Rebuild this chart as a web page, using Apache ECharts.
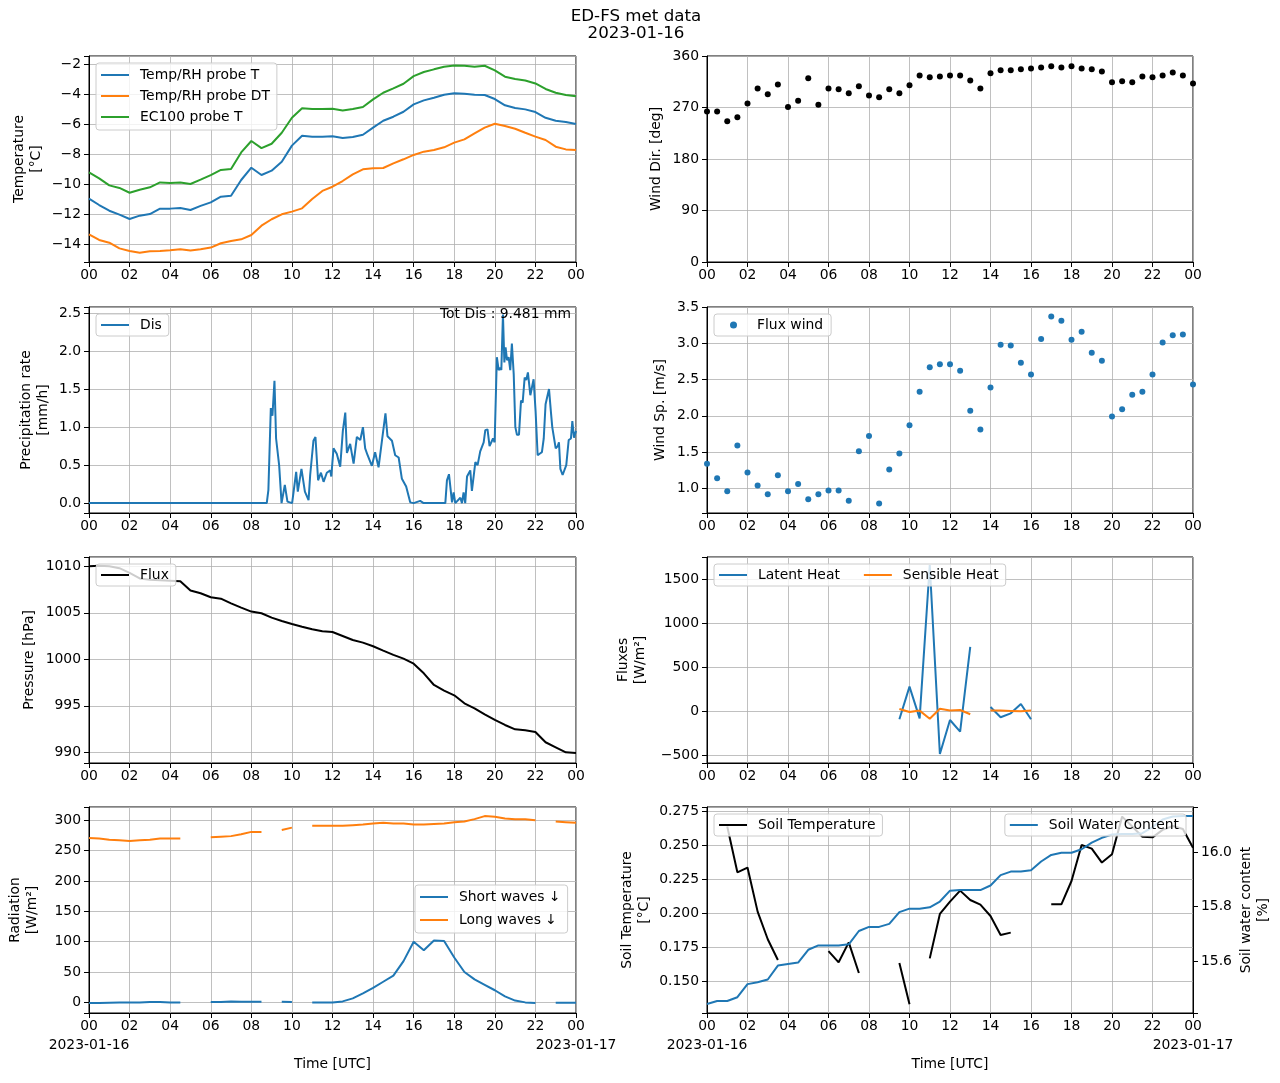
<!DOCTYPE html>
<html>
<head>
<meta charset="utf-8">
<script src="https://cdn.jsdelivr.net/npm/echarts@6/dist/echarts.min.js"></script>
<style>
html, body { margin: 0; padding: 0; background: #fff; }
#main { width: 1280px; height: 1083px; }
</style>
</head>
<body>
<div id="main"></div>
<script>
// half-hourly time stamps (hours UTC since 2023-01-16 00:00)
var times = [0, 0.5, 1, 1.5, 2, 2.5, 3, 3.5, 4, 4.5, 5, 5.5, 6, 6.5, 7, 7.5, 8, 8.5, 9, 9.5,
  10, 10.5, 11, 11.5, 12, 12.5, 13, 13.5, 14, 14.5, 15, 15.5, 16, 16.5, 17, 17.5, 18, 18.5, 19, 19.5,
  20, 20.5, 21, 21.5, 22, 22.5, 23, 23.5, 24];
var dayLabels = ['2023-01-16', '2023-01-17'];

var tempProbeT = [-10.95, -11.38, -11.76, -12.02, -12.31, -12.09, -11.98, -11.62, -11.62, -11.58, -11.71, -11.44, -11.2, -10.82, -10.76, -9.71, -8.89, -9.38, -9.09, -8.49,
  -7.42, -6.76, -6.82, -6.82, -6.8, -6.91, -6.84, -6.69, -6.22, -5.76, -5.49, -5.16, -4.67, -4.4, -4.22, -4.02, -3.93, -3.96, -4.02, -4.04,
  -4.31, -4.73, -4.91, -5.0, -5.18, -5.56, -5.76, -5.84, -5.98];
var tempProbeDT = [-13.33, -13.71, -13.89, -14.27, -14.44, -14.56, -14.47, -14.44, -14.4, -14.33, -14.42, -14.33, -14.22, -13.93, -13.78, -13.67, -13.38, -12.76, -12.33, -12.0,
  -11.82, -11.6, -10.98, -10.44, -10.16, -9.78, -9.33, -9.0, -8.93, -8.91, -8.6, -8.33, -8.04, -7.82, -7.71, -7.53, -7.22, -7.0, -6.6, -6.22,
  -5.96, -6.11, -6.29, -6.56, -6.82, -7.04, -7.49, -7.67, -7.71];
var tempEC100 = [-9.2, -9.6, -10.07, -10.24, -10.56, -10.36, -10.2, -9.87, -9.91, -9.87, -9.98, -9.69, -9.38, -9.04, -8.98, -7.87, -7.11, -7.58, -7.29, -6.56,
  -5.56, -4.93, -4.98, -4.98, -4.96, -5.07, -4.98, -4.84, -4.33, -3.89, -3.6, -3.29, -2.78, -2.51, -2.33, -2.16, -2.07, -2.09, -2.16, -2.09,
  -2.4, -2.82, -2.98, -3.07, -3.27, -3.64, -3.89, -4.04, -4.13];

var windDir = [263, 263, 246, 253, 277, 303, 293, 310, 271, 282, 321, 275, 303, 302, 295, 307, 291, 288, 302, 295,
  309, 326, 323, 324, 326, 326, 317, 303, 330, 335, 335, 337, 338, 340, 342, 340, 342, 338, 337, 333,
  314, 316, 314, 324, 323, 326, 331, 326, 312];
var windSpeed = [1.34, 1.14, 0.96, 1.59, 1.22, 1.04, 0.92, 1.18, 0.96, 1.06, 0.85, 0.92, 0.97, 0.97, 0.83, 1.51, 1.72, 0.79, 1.26, 1.48,
  1.87, 2.33, 2.67, 2.71, 2.71, 2.62, 2.07, 1.81, 2.39, 2.98, 2.97, 2.73, 2.57, 3.06, 3.37, 3.31, 3.05, 3.16, 2.87, 2.76,
  1.99, 2.09, 2.29, 2.33, 2.57, 3.01, 3.11, 3.12, 2.43];

// disdrometer precipitation rate (irregular times, hours)
var precTimes = [0, 8.76, 8.84, 8.96, 9.04, 9.14, 9.22, 9.37, 9.49, 9.65, 9.78, 10.01, 10.21, 10.29, 10.47, 10.64, 10.82, 10.9,
  11.06, 11.16, 11.29, 11.43, 11.56, 11.72, 11.89, 11.94, 12.05, 12.21, 12.38, 12.51, 12.63, 12.71, 12.87,
  13.04, 13.2, 13.37, 13.5, 13.61, 13.73, 13.94, 14.1, 14.27, 14.45, 14.61, 14.71, 14.93, 15.09, 15.26, 15.42,
  15.63, 15.83, 16.0, 16.32, 16.49, 17.56, 17.64, 17.74, 17.89, 17.97, 18.05, 18.3, 18.38, 18.46, 18.54, 18.63,
  18.79, 18.87, 19.04, 19.15, 19.28, 19.45, 19.53, 19.64, 19.74, 19.91, 19.99, 20.1, 20.19, 20.27, 20.32, 20.4,
  20.47, 20.53, 20.6, 20.68, 20.76, 20.84, 20.93, 21.01, 21.09, 21.19, 21.29, 21.37, 21.47, 21.55, 21.63, 21.75,
  21.83, 21.91, 22.01, 22.11, 22.21, 22.32, 22.41, 22.5, 22.6, 22.67, 22.77, 22.83, 22.9, 23.0, 23.1, 23.16,
  23.23, 23.34, 23.43, 23.52, 23.64, 23.75, 23.82, 23.9, 24.0];
var precRate = [0, 0, 0.17, 1.25, 1.15, 1.61, 0.85, 0.5, 0.0, 0.24, 0.02, 0, 0.41, 0.15, 0.45, 0.15, 0.04, 0.37,
  0.82, 0.87, 0.3, 0.4, 0.28, 0.4, 0.43, 0.35, 0.72, 0.65, 0.48, 0.95, 1.19, 0.66, 0.78,
  0.52, 0.87, 0.83, 1.0, 0.72, 0.63, 0.49, 0.67, 0.47, 0.85, 1.18, 0.88, 0.82, 0.63, 0.6, 0.32,
  0.22, 0.01, 0, 0.03, 0, 0, 0.3, 0.38, 0.01, 0.14, 0, 0.07, 0, 0.14, 0, 0.35,
  0.43, 0.16, 0.54, 0.5, 0.68, 0.8, 0.96, 0.97, 0.75, 0.85, 0.8, 1.92, 1.75, 1.78, 1.75, 2.48,
  1.85, 2.05, 1.88, 1.92, 1.75, 2.1, 1.7, 1.0, 0.9, 0.9, 1.35, 1.32, 1.65, 1.62, 1.72, 1.42,
  1.43, 1.63, 1.2, 0.63, 0.65, 0.67, 0.85, 1.3, 1.42, 1.5, 1.18, 1.0, 1.0, 0.72, 0.75, 0.8,
  0.45, 0.37, 0.36, 0.5, 0.83, 0.85, 1.08, 0.86, 0.95];
var totDis = '9.481';

var pressure = [1010.0, 1010.07, 1010.0, 1009.8, 1009.3, 1008.7, 1008.55, 1008.5, 1008.45, 1008.4, 1007.4, 1007.1, 1006.67, 1006.52, 1006.02, 1005.56, 1005.13, 1004.95, 1004.48, 1004.12,
  1003.8, 1003.51, 1003.23, 1003.01, 1002.94, 1002.51, 1002.08, 1001.79, 1001.4, 1000.93, 1000.47, 1000.07, 999.53, 998.49, 997.24, 996.63, 996.13, 995.27, 994.73, 994.09,
  993.48, 992.94, 992.47, 992.37, 992.19, 991.08, 990.54, 990.0, 989.93];

var latentHeat = [null, null, null, null, null, null, null, null, null, null, null, null, null, null, null, null, null, null, null, -91,
  281, -80, 1667, -486, -99, -232, 733, null, 49, -68, -23, 84, -91, null, null, null, null, null, null, null,
  null, null, null, null, null, null, null, null, null];
var sensibleHeat = [null, null, null, null, null, null, null, null, null, null, null, null, null, null, null, null, null, null, null, 27,
  -8, 8, -84, 30, 8, 15, -34, null, 8, 8, 4, 0, 8, null, null, null, null, null, null, null,
  null, null, null, null, null, null, null, null, null];

var shortWaves = [-1, -1, -0.5, 0, 0, 0, 0.5, 0.5, 0, 0, null, null, 0.5, 0.5, 1.6, 1, 1, 1, null, 1,
  0.5, null, 0, 0, 0, 1.6, 6.6, 15, 24, 34, 44, 68, 100, 86, 102, 101, 74, 50, 38, 29,
  20, 10, 3, 0, -1, null, -0.5, -0.5, -0.5];
var longWaves = [271, 270, 268, 267, 266, 267, 268, 270, 270, 270, null, null, 272, 273, 274, 277, 281, 281, null, 284,
  288, null, 291, 291, 291, 291, 292, 293, 295, 296, 295, 295, 293, 293, 294, 295, 297, 298, 302, 307,
  306, 303, 302, 302, 300, null, 298, 297, 296];

var soilTemp = [null, null, 0.264, 0.2302, 0.2337, 0.2012, 0.1808, 0.1655, null, null, null, null, 0.1721, 0.1638, 0.1785, 0.1559, null, null, null, 0.1633,
  0.1328, null, 0.1667, 0.1995, 0.2086, 0.2167, 0.2098, 0.2064, 0.198, 0.184, 0.1857, null, null, null, 0.2066, 0.2066, 0.2238, 0.2504, 0.2477, 0.2374,
  0.2435, 0.2713, 0.264, 0.2565, 0.256, 0.2615, 0.2644, 0.2622, 0.2484];
var soilWater = [15.443, 15.454, 15.454, 15.468, 15.516, 15.523, 15.533, 15.584, 15.59, 15.595, 15.642, 15.658, 15.658, 15.658, 15.662, 15.711, 15.726, 15.726, 15.737, 15.78,
  15.793, 15.793, 15.798, 15.819, 15.859, 15.861, 15.861, 15.861, 15.878, 15.916, 15.929, 15.929, 15.934, 15.966, 15.99, 15.998, 15.998, 16.011, 16.035, 16.053,
  16.065, 16.067, 16.067, 16.07, 16.092, 16.12, 16.131, 16.133, 16.133];

var FONT = 'DejaVu Sans';
var FS = 13.9;
var C0 = '#1f77b4', C1 = '#ff7f0e', C2 = '#2ca02c';

function pairs(xs, ys) {
  return xs.map(function (t, i) { return [t, ys[i] == null ? '-' : ys[i]]; });
}

function pad2(h) { h = Math.round(h) % 24; return (h < 10 ? '0' : '') + h; }

function tickFmt(step, dec) {
  return function (v) {
    var k = v / step;
    if (Math.abs(k - Math.round(k)) > 1e-6) return '';
    var s = (Math.abs(v) < 1e-9 ? 0 : v).toFixed(dec);
    return s.replace('-', '\u2212');
  };
}

var lefts = [89, 707];
var widths = [487, 486];
var tops = [56, 307, 557, 807];

var grids = [], xAxes = [], yAxes = [];
for (var g = 0; g < 8; g++) {
  var row = Math.floor(g / 2), col = g % 2;
  grids.push({
    left: lefts[col], top: tops[row], width: widths[col], height: 206,
    show: true, borderColor: '#000', borderWidth: 1, backgroundColor: 'transparent'
  });
  var bottom = row === 3;
  xAxes.push({
    type: 'value', gridIndex: g, min: 0, max: 24, interval: 2,
    axisLine: { show: true, onZero: false, lineStyle: { color: '#000', width: 1 } },
    axisTick: { show: true, length: 5, lineStyle: { color: '#000' } },
    splitLine: { show: true, lineStyle: { color: '#b0b0b0', width: 0.8 } },
    axisLabel: {
      color: '#000', fontFamily: FONT, fontSize: FS, margin: 6,
      interval: 0, hideOverlap: false, showMinLabel: true, showMaxLabel: true,
      formatter: pad2
    },
    name: bottom ? 'Time [UTC]' : '', nameLocation: 'middle', nameGap: 44,
    nameTextStyle: { color: '#000', fontFamily: FONT, fontSize: FS }
  });
}

// ticks at multiples of step: fix the spacing via min/maxInterval so they are not counted from min
function yAx(g, min, max, step, dec, name, gap, extra) {
  var a = {
    type: 'value', gridIndex: g, min: min, max: max, minInterval: step, maxInterval: step,
    axisLine: { show: true, onZero: false, lineStyle: { color: '#000', width: 1 } },
    axisTick: { show: true, length: 5, lineStyle: { color: '#000' } },
    splitLine: { show: true, lineStyle: { color: '#b0b0b0', width: 0.8 } },
    axisLabel: { color: '#000', fontFamily: FONT, fontSize: FS, margin: 8, hideOverlap: false, formatter: tickFmt(step, dec) },
    name: name, nameLocation: 'middle', nameRotate: 90, nameGap: gap,
    nameTextStyle: { color: '#000', fontFamily: FONT, fontSize: FS, lineHeight: 17, align: 'center' }
  };
  if (extra) for (var k in extra) a[k] = extra[k];
  return a;
}

yAxes.push(yAx(0, -15.18, -1.44, 2, 0, 'Temperature\n[°C]', 44));
yAxes.push(yAx(1, 0, 360, 90, 0, 'Wind Dir. [deg]', 42));
yAxes.push(yAx(2, -0.13, 2.58, 0.5, 1, 'Precipitation rate\n[mm/h]', 37));
yAxes.push(yAx(3, 0.66, 3.5, 0.5, 1, 'Wind Sp. [m/s]', 38));
yAxes.push(yAx(4, 988.85, 1011.0, 5, 0, 'Pressure [hPa]', 51));
yAxes.push(yAx(5, -589, 1758, 500, 0, 'Fluxes\n[W/m²]', 58));
yAxes.push(yAx(6, -17.5, 322, 50, 0, 'Radiation\n[W/m²]', 48));
yAxes.push(yAx(7, 0.1264, 0.2784, 0.025, 3, 'Soil Temperature\n[°C]', 54));
yAxes.push(yAx(7, 15.41, 16.166, 0.2, 1, 'Soil water content\n[%]', 45, {
  position: 'right', splitLine: { show: false }
}));

function line(name, g, yi, xs, ys, color) {
  return {
    type: 'line', name: name, xAxisIndex: g, yAxisIndex: yi, data: pairs(xs, ys),
    symbol: 'none', showSymbol: false, connectNulls: false, color: color,
    lineStyle: { color: color, width: 2 }, z: 3
  };
}

var series = [
  line('Temp/RH probe T', 0, 0, times, tempProbeT, C0),
  line('Temp/RH probe DT', 0, 0, times, tempProbeDT, C1),
  line('EC100 probe T', 0, 0, times, tempEC100, C2),
  {
    type: 'scatter', name: 'Wind Dir', xAxisIndex: 1, yAxisIndex: 1, data: pairs(times, windDir),
    symbolSize: 6, color: '#000', itemStyle: { color: '#000', opacity: 1 }, clip: false
  },
  line('Dis', 2, 2, precTimes, precRate, C0),
  {
    type: 'scatter', name: 'Flux wind', xAxisIndex: 3, yAxisIndex: 3, data: pairs(times, windSpeed),
    symbolSize: 6, color: C0, itemStyle: { color: C0, opacity: 1 }, clip: false
  },
  line('Flux', 4, 4, times, pressure, '#000'),
  line('Latent Heat', 5, 5, times, latentHeat, C0),
  line('Sensible Heat', 5, 5, times, sensibleHeat, C1),
  line('Short waves ↓', 6, 6, times, shortWaves, C0),
  line('Long waves ↓', 6, 6, times, longWaves, C1),
  line('Soil Temperature', 7, 7, times, soilTemp, '#000'),
  line('Soil Water Content', 7, 8, times, soilWater, C0)
];

function legend(names, pos, extra) {
  var l = {
    data: names, orient: 'vertical', selectedMode: false,
    backgroundColor: 'rgba(255,255,255,0.8)', borderColor: '#cccccc', borderWidth: 1, borderRadius: 3,
    icon: 'rect', itemWidth: 28, itemHeight: 2, itemGap: 7, padding: [4, 7, 4, 5],
    textStyle: { color: '#000', fontFamily: FONT, fontSize: FS, padding: [0, 0, 0, 6] }
  };
  for (var k in pos) l[k] = pos[k];
  if (extra) for (var e in extra) l[e] = extra[e];
  return l;
}

var legends = [
  legend(['Temp/RH probe T', 'Temp/RH probe DT', 'EC100 probe T'], { left: 96, top: 63 }, { itemGap: 7, padding: [5, 7, 6, 5] }),
  legend(['Dis'], { left: 96, top: 314 }),
  legend(['Flux'], { left: 96, top: 564 }),
  legend(['Short waves ↓', 'Long waves ↓'], { left: 415, top: 885 }, { itemGap: 9, padding: [5, 7, 6, 5] }),
  legend(['Flux wind'], { left: 714, top: 314 }, {
    icon: 'circle', itemWidth: 7, itemHeight: 7, padding: [4, 8, 4, 16],
    textStyle: { color: '#000', fontFamily: FONT, fontSize: FS, padding: [0, 0, 0, 15] }
  }),
  legend(['Latent Heat', 'Sensible Heat'], { left: 714, top: 564 }, { orient: 'horizontal', itemGap: 24 }),
  legend(['Soil Temperature'], { left: 714, top: 814 }),
  legend(['Soil Water Content'], { right: 94, top: 814 })
];

// date labels under the first and last tick of the bottom row
var graphics = [
  {
    type: 'text', x: 636, y: 8, z: 10,
    style: { text: 'ED-FS met data\n2023-01-16', fill: '#000', font: '16.7px "DejaVu Sans"', textAlign: 'center', lineHeight: 17 }
  },
  {
    type: 'text', x: 571, y: 314, z: 10,
    style: { text: 'Tot Dis : ' + totDis + ' mm', fill: '#000', font: FS + 'px "DejaVu Sans"', textAlign: 'right', textVerticalAlign: 'middle' }
  }
];
[[89, 0], [576, 1], [707, 0], [1193, 1]].forEach(function (d) {
  graphics.push({
    type: 'text', x: d[0], y: 1045, z: 10,
    style: { text: dayLabels[d[1]], fill: '#000', font: FS + 'px "DejaVu Sans"', textAlign: 'center', textVerticalAlign: 'middle' }
  });
});

var chart = echarts.init(document.getElementById('main'));
chart.setOption({
  animation: false,
  backgroundColor: '#fff',
  textStyle: { fontFamily: FONT },
  grid: grids,
  xAxis: xAxes,
  yAxis: yAxes,
  legend: legends,
  series: series,
  graphic: graphics
});
</script>
</body>
</html>
